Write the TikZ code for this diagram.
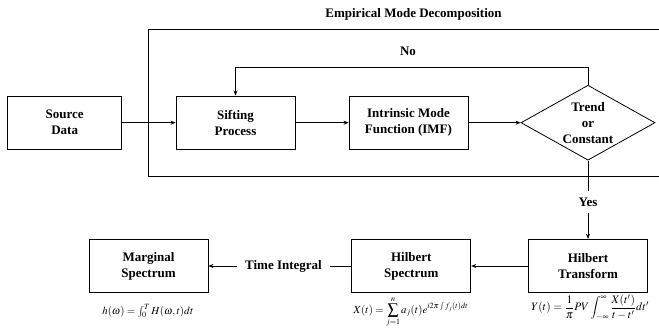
\documentclass[tikz,border=0pt]{standalone}
\usepackage{mathptmx}
\usepackage[no-math]{fontspec}
\setmainfont{Liberation Serif}
\usetikzlibrary{shapes.geometric,arrows.meta}
\begin{document}
\begin{tikzpicture}[x=1pt,y=-1pt,
  every node/.style={font=\bfseries\fontsize{13}{16}\selectfont, align=center},
  box/.style={draw, line width=0.8pt, minimum height=53.5pt, inner sep=0pt},
  dec/.style={draw, line width=0.8pt, shape=diamond, aspect=1.8, minimum width=134pt, minimum height=75pt, inner sep=0pt},
  conn/.style={line width=0.8pt, -{Stealth[length=5pt,width=4pt]}},
  plain/.style={line width=0.8pt},
  formula/.style={font=\fontsize{10.8}{12}\selectfont, inner sep=0pt},
  gap/.style={fill=white}
]
\useasboundingbox (0,0) rectangle (659,331);
\node (title) at (413.5,14) {Empirical Mode Decomposition};
\coordinate (frTR) at (659,29);
\coordinate (frTL) at (148,29);
\coordinate (frBL) at (148,176);
\coordinate (frBR) at (659,176);
\draw[plain] (frTR) -- (frTL) -- (frBL) -- (frBR);

\node[box, minimum width=114pt] (src) at (64.7,122.7) {Source\\Data};
\node[box, minimum width=119pt] (sift) at (235.5,122.7) {Sifting\\Process};
\node[box, minimum width=119pt] (imf) at (408.5,122.7) {Intrinsic Mode\\Function (IMF)};
\node[dec] (dec) at (588,122.7) {Trend\\or\\Constant};
\node (no) at (408,51.7) {No};
\coordinate (fbR) at (588,67.7);
\coordinate (fbL) at (235.5,67.7);
\draw[conn] (dec.north) -- (fbR) -- (fbL) -- (sift.north);
\draw[conn] (src) -- (sift);
\draw[conn] (sift) -- (imf);
\draw[conn] (imf) -- (dec);

\node[box, minimum width=119pt] (ht) at (588,266) {Hilbert\\Transform};
\node[box, minimum width=119pt] (hs) at (411.3,266) {Hilbert\\Spectrum};
\node[box, minimum width=119pt] (ms) at (148.5,266) {Marginal\\Spectrum};
\draw[conn] (dec.south) -- node[gap, pos=0.53, inner ysep=7pt] (yes) {Yes} (ht.north);
\draw[conn] (ht) -- (hs);
\draw[conn] (hs) -- node[gap, pos=0.475, inner xsep=8.5pt] (ti) {Time Integral} (ms);

\node[formula] (f1) at (148,311) {$h(\omega)=\int_0^T H(\omega,t)dt$};
\node[formula] (f2) at (411,312) {$\displaystyle X(t)=\sum_{j=1}^{n}a_j(t)e^{i2\pi\int f_j(t)dt}$};
\node[formula, font=\fontsize{11.4}{13}\selectfont] (f3) at (590,307.5) {$\displaystyle Y(t)=\frac{1}{\pi}PV\int_{-\infty}^{\infty}\frac{X(t')}{t-t'}dt'$};
\end{tikzpicture}
\end{document}
